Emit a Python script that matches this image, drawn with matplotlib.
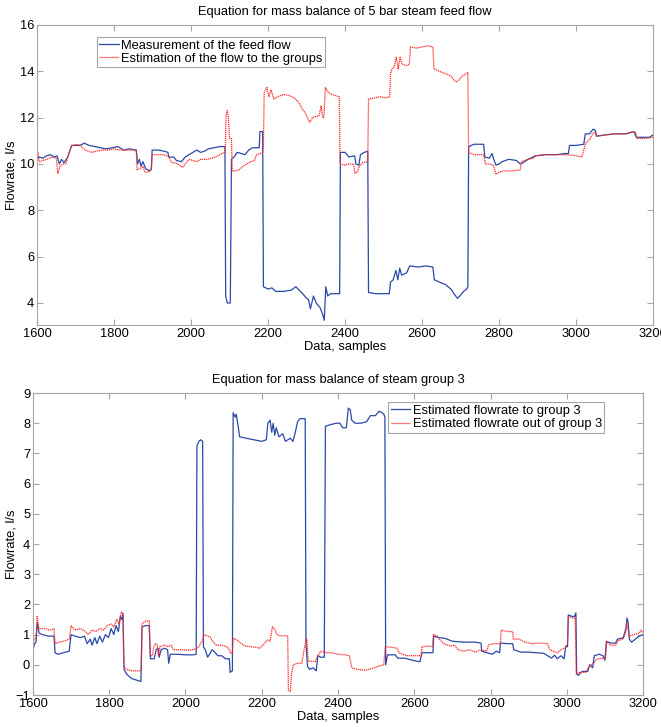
import numpy as np
import matplotlib
matplotlib.use('Agg')
import matplotlib.pyplot as plt

# feed flow balance (top) and steam group 3 balance (bottom)

feed_meas_x = [1600, 1605, 1615, 1625, 1635, 1645, 1652, 1658, 1664, 1670, 1680, 1690, 1700, 1710, 1718, 1722,
               1735, 1750, 1765, 1780, 1795, 1810, 1825, 1840, 1858, 1861, 1866, 1870, 1875, 1882, 1892, 1897,
               1899, 1915, 1930, 1940, 1942, 1955, 1962, 1975, 1985, 1995, 2005, 2015, 2025, 2035, 2045, 2060,
               2075, 2088, 2090, 2094, 2102, 2105, 2112, 2120, 2130, 2140, 2150, 2160, 2177, 2179, 2186, 2188,
               2200, 2210, 2220, 2240, 2260, 2272, 2278, 2290, 2300, 2305, 2310, 2318, 2325, 2335, 2342, 2346,
               2350, 2355, 2362, 2386, 2388, 2400, 2410, 2425, 2428, 2436, 2440, 2450, 2459, 2461, 2480, 2515,
               2518, 2525, 2532, 2537, 2542, 2547, 2560, 2568, 2590, 2610, 2628, 2632, 2645, 2660, 2675, 2685,
               2692, 2698, 2708, 2716, 2719, 2721, 2735, 2760, 2763, 2775, 2782, 2786, 2792, 2800, 2808, 2825,
               2845, 2855, 2862, 2875, 2895, 2920, 2950, 2970, 2980, 2983, 3000, 3020, 3024, 3035, 3044, 3050,
               3053, 3075, 3100, 3130, 3150, 3157, 3175, 3190, 3200]
feed_meas_y = [10.2, 10.3, 10.25, 10.35, 10.4, 10.3, 10.35, 10.0, 10.2, 10.05, 10.3, 10.8, 10.8, 10.8, 10.85, 10.9,
               10.8, 10.75, 10.7, 10.65, 10.7, 10.75, 10.6, 10.65, 10.6, 10.0, 10.2, 9.9, 10.1, 9.8, 9.7, 9.8,
               10.6, 10.6, 10.55, 10.5, 10.3, 10.3, 10.15, 10.1, 10.3, 10.4, 10.5, 10.6, 10.5, 10.55, 10.65, 10.7,
               10.75, 10.75, 4.3, 4.0, 4.0, 10.2, 10.3, 10.5, 10.45, 10.4, 10.6, 10.7, 10.7, 11.4, 11.4, 4.7,
               4.6, 4.65, 4.5, 4.5, 4.55, 4.7, 4.6, 4.4, 4.2, 4.15, 3.75, 4.3, 4.0, 3.8, 3.5, 3.25,
               4.7, 4.3, 4.4, 4.4, 10.5, 10.5, 10.3, 10.35, 10.0, 9.95, 10.4, 10.5, 10.55, 4.45, 4.4, 4.4,
               4.9, 5.0, 5.4, 5.0, 5.5, 5.2, 5.3, 5.6, 5.55, 5.6, 5.55, 5.0, 4.9, 4.8, 4.6, 4.35,
               4.2, 4.3, 4.5, 4.6, 4.7, 10.75, 10.85, 10.85, 10.3, 10.25, 10.45, 10.2, 9.95, 10.0, 10.1, 10.2,
               10.15, 10.0, 10.05, 10.2, 10.35, 10.4, 10.4, 10.45, 10.45, 10.8, 10.8, 10.85, 11.3, 11.3, 11.5, 11.45,
               11.2, 11.25, 11.3, 11.3, 11.4, 11.15, 11.15, 11.15, 11.25]

feed_est_x = [1600, 1602, 1606, 1615, 1625, 1640, 1650, 1654, 1660, 1668, 1675, 1685, 1692, 1705, 1715, 1725,
              1740, 1755, 1770, 1785, 1800, 1815, 1830, 1850, 1858, 1860, 1868, 1875, 1880, 1890, 1897, 1899,
              1915, 1930, 1942, 1950, 1960, 1970, 1978, 1985, 1995, 2005, 2015, 2025, 2040, 2055, 2070, 2080,
              2089, 2091, 2094, 2097, 2100, 2105, 2107, 2115, 2125, 2135, 2145, 2155, 2165, 2170, 2180, 2186,
              2188, 2190, 2197, 2202, 2208, 2215, 2225, 2240, 2255, 2268, 2280, 2288, 2297, 2302, 2308, 2316,
              2325, 2333, 2338, 2342, 2345, 2349, 2356, 2365, 2375, 2385, 2387, 2400, 2410, 2422, 2426, 2432,
              2437, 2445, 2459, 2461, 2475, 2490, 2505, 2516, 2518, 2522, 2528, 2533, 2538, 2543, 2548, 2560,
              2567, 2570, 2585, 2600, 2615, 2628, 2631, 2645, 2660, 2675, 2683, 2690, 2697, 2705, 2715, 2719,
              2721, 2735, 2760, 2765, 2775, 2785, 2792, 2800, 2815, 2835, 2855, 2858, 2875, 2890, 2893, 2920,
              2950, 2980, 3000, 3015, 3020, 3025, 3035, 3045, 3050, 3053, 3075, 3100, 3130, 3148, 3155, 3158,
              3180, 3200]
feed_est_y = [10.3, 10.5, 10.1, 10.15, 10.2, 10.3, 10.25, 9.6, 9.9, 10.0, 10.0, 10.6, 10.8, 10.85, 10.75, 10.6,
              10.5, 10.55, 10.6, 10.6, 10.65, 10.6, 10.6, 10.6, 10.55, 9.75, 9.8, 9.9, 9.65, 9.65, 9.75, 10.4,
              10.4, 10.4, 10.3, 10.05, 10.05, 9.95, 9.85, 10.0, 10.2, 10.15, 10.1, 10.2, 10.2, 10.25, 10.35, 10.45,
              10.5, 12.1, 12.3, 12.0, 11.1, 11.1, 9.7, 9.7, 9.75, 9.9, 10.0, 10.1, 10.15, 10.4, 10.45, 10.5,
              10.75, 13.1, 13.3, 12.9, 13.2, 12.8, 12.9, 13.0, 12.95, 12.85, 12.65, 12.4, 12.2, 12.0, 11.8, 12.0,
              12.05, 12.1, 12.5, 12.0, 12.0, 13.3, 13.1, 13.0, 12.95, 12.9, 10.0, 9.95, 10.0, 10.0, 9.6, 9.65,
              9.9, 10.05, 10.1, 12.8, 12.85, 12.9, 12.85, 12.9, 13.9, 14.1, 14.2, 14.6, 14.1, 14.6, 14.3, 14.25,
              14.3, 15.05, 15.0, 15.05, 15.1, 15.05, 14.1, 14.0, 13.9, 13.8, 13.6, 13.55, 13.65, 13.8, 13.9, 13.95,
              10.5, 10.4, 10.4, 10.0, 10.0, 9.95, 9.55, 9.65, 9.7, 9.7, 9.75, 10.1, 10.2, 10.25, 10.35, 10.4,
              10.4, 10.4, 10.35, 10.3, 10.6, 10.9, 11.05, 11.35, 11.35, 11.2, 11.25, 11.3, 11.3, 11.4, 11.35, 11.1,
              11.1, 11.15]

grp3_in_x = [1600, 1604, 1608, 1611, 1616, 1625, 1640, 1655, 1658, 1665, 1680, 1695, 1700, 1710, 1725, 1735,
             1742, 1750, 1755, 1762, 1768, 1775, 1782, 1790, 1798, 1805, 1812, 1818, 1824, 1829, 1833, 1836,
             1839, 1845, 1858, 1870, 1883, 1886, 1895, 1905, 1908, 1918, 1923, 1928, 1931, 1936, 1945, 1953,
             1956, 1960, 1980, 2000, 2020, 2028, 2030, 2035, 2040, 2045, 2047, 2052, 2058, 2063, 2070, 2078,
             2085, 2095, 2105, 2115, 2117, 2123, 2125, 2130, 2133, 2137, 2142, 2160, 2180, 2200, 2212, 2216,
             2222, 2226, 2230, 2234, 2238, 2245, 2255, 2262, 2275, 2282, 2288, 2294, 2300, 2314, 2316, 2320,
             2325, 2335, 2343, 2347, 2355, 2364, 2367, 2380, 2395, 2405, 2412, 2422, 2427, 2432, 2436, 2445,
             2460, 2475, 2485, 2498, 2508, 2515, 2520, 2523, 2525, 2530, 2550, 2557, 2575, 2595, 2615, 2620,
             2640, 2649, 2651, 2665, 2680, 2700, 2730, 2760, 2775, 2777, 2790, 2805, 2815, 2824, 2826, 2845,
             2858, 2861, 2880, 2900, 2920, 2940, 2950, 2960, 2968, 2975, 2985, 2993, 2997, 3002, 3004, 3015,
             3020, 3024, 3026, 3030, 3040, 3055, 3060, 3068, 3072, 3085, 3095, 3100, 3104, 3115, 3128, 3133,
             3148, 3155, 3158, 3161, 3164, 3170, 3180, 3190, 3200]
grp3_in_y = [0.45, 0.7, 0.75, 1.4, 1.05, 1.0, 0.95, 0.95, 0.4, 0.35, 0.4, 0.45, 1.0, 0.95, 0.9, 0.95,
             0.7, 0.85, 0.65, 0.9, 0.7, 0.95, 0.75, 1.0, 0.9, 1.2, 1.0, 1.3, 1.1, 1.6, 1.5, 1.7,
             -0.15, -0.3, -0.45, -0.5, -0.55, 1.25, 1.3, 1.3, 0.2, 0.2, 0.5, 0.55, 0.25, 0.5, 0.55, 0.5,
             0.05, 0.35, 0.35, 0.33, 0.33, 0.35, 7.25, 7.4, 7.45, 7.4, 0.6, 0.5, 0.25, 0.35, 0.5, 0.4,
             0.3, 0.3, 0.2, 0.2, -0.25, -0.2, 8.35, 8.2, 8.3, 8.0, 7.55, 7.5, 7.45, 7.4, 7.45, 8.0,
             8.1, 7.7, 8.0, 7.6, 7.85, 7.55, 7.65, 7.4, 7.5, 7.4, 7.7, 8.05, 8.15, 8.15, 0.7, -0.05,
             -0.15, -0.1, -0.2, 0.3, 0.25, 0.25, 7.9, 7.95, 8.0, 8.0, 7.85, 7.85, 8.5, 8.45, 8.1, 8.0,
             8.0, 8.05, 8.25, 8.25, 8.4, 8.35, 8.3, 8.2, 0.0, 0.33, 0.33, 0.22, 0.22, 0.15, 0.1, 0.4,
             0.4, 0.4, 0.95, 0.9, 0.88, 0.78, 0.75, 0.75, 0.72, 0.45, 0.4, 0.35, 0.45, 0.4, 0.72, 0.7,
             0.7, 0.5, 0.42, 0.42, 0.4, 0.38, 0.3, 0.22, 0.32, 0.2, 0.3, 0.2, 0.6, 0.6, 1.65, 1.6,
             1.6, 1.72, -0.3, -0.35, -0.22, -0.22, 0.0, -0.1, 0.3, 0.35, 0.3, 0.15, 0.78, 0.72, 0.72, 0.85,
             0.9, 1.2, 1.55, 1.4, 0.85, 0.75, 0.85, 0.95, 1.0]

grp3_out_x = [1600, 1604, 1608, 1611, 1616, 1630, 1645, 1655, 1658, 1670, 1685, 1695, 1700, 1710, 1725, 1738,
              1745, 1755, 1765, 1775, 1785, 1795, 1805, 1812, 1820, 1826, 1832, 1836, 1838, 1845, 1860, 1880,
              1884, 1886, 1895, 1905, 1907, 1913, 1917, 1922, 1926, 1929, 1933, 1945, 1955, 1962, 1968, 1990,
              2010, 2028, 2035, 2040, 2045, 2048, 2058, 2065, 2070, 2080, 2095, 2108, 2115, 2118, 2123, 2125,
              2135, 2145, 2155, 2170, 2185, 2195, 2205, 2215, 2222, 2228, 2235, 2240, 2250, 2260, 2268, 2270,
              2275, 2278, 2283, 2293, 2305, 2311, 2315, 2318, 2322, 2330, 2340, 2345, 2355, 2370, 2385, 2400,
              2420, 2430, 2436, 2450, 2470, 2490, 2505, 2520, 2524, 2540, 2555, 2560, 2580, 2600, 2618, 2620,
              2640, 2648, 2650, 2660, 2668, 2680, 2695, 2705, 2715, 2730, 2745, 2760, 2775, 2790, 2795, 2810,
              2826, 2828, 2845, 2858, 2860, 2875, 2890, 2910, 2930, 2950, 2955, 2965, 2975, 2985, 2993, 2998,
              3002, 3004, 3015, 3022, 3025, 3035, 3050, 3058, 3070, 3080, 3095, 3102, 3104, 3115, 3128, 3135,
              3148, 3155, 3157, 3161, 3165, 3175, 3190, 3195, 3200]
grp3_out_y = [0.75, 0.85, 0.9, 1.6, 1.2, 1.2, 1.15, 1.2, 0.7, 0.75, 0.8, 0.85, 1.3, 1.15, 1.2, 1.1,
              1.0, 1.15, 1.1, 1.2, 1.15, 1.3, 1.35, 1.25, 1.5, 1.35, 1.75, 1.7, -0.05, -0.15, -0.2, -0.2,
              -0.15, 1.35, 1.45, 1.45, 0.3, 0.3, 0.6, 0.7, 0.65, 0.3, 0.6, 0.65, 0.6, 0.65, 0.5, 0.5,
              0.48, 0.52, 0.6, 0.72, 0.8, 1.0, 0.95, 0.92, 0.8, 0.65, 0.65, 0.6, 0.5, 0.38, 0.4, 0.88,
              0.82, 0.72, 0.62, 0.6, 0.58, 0.55, 0.68, 0.82, 0.78, 1.27, 1.15, 1.0, 0.95, 0.97, 0.95, -0.85,
              -0.88, -0.3, 0.0, 0.05, 0.05, 0.5, 0.72, 0.85, 0.12, 0.12, 0.1, 0.25, 0.45, 0.4, 0.4, 0.35,
              0.33, 0.3, -0.1, -0.15, -0.18, -0.12, -0.05, 0.0, 0.6, 0.58, 0.55, 0.4, 0.3, 0.3, 0.3, 0.6,
              0.62, 0.6, 1.0, 0.95, 0.82, 0.68, 0.62, 0.65, 0.5, 0.45, 0.5, 0.42, 0.5, 0.45, 0.66, 0.7,
              0.7, 1.15, 1.1, 1.1, 0.85, 0.85, 0.75, 0.7, 0.72, 0.7, 0.5, 0.45, 0.4, 0.5, 0.55, 0.6,
              0.7, 1.6, 1.55, 1.55, -0.3, -0.25, -0.25, -0.05, 0.05, 0.2, 0.22, 0.2, 0.77, 0.65, 0.65, 0.8,
              0.85, 1.1, 1.38, 1.16, 0.95, 1.0, 1.05, 1.15, 1.05]

top_yticks = [4, 6, 8, 10, 12, 14, 16]
bot_yticks = [-1, 0, 1, 2, 3, 4, 5, 6, 7, 8, 9]
xticks = [1600, 1800, 2000, 2200, 2400, 2600, 2800, 3000, 3200]

plt.rcParams['font.family'] = ['Liberation Sans', 'DejaVu Sans']
plt.rcParams['font.size'] = 9.3

blue = '#2b49a8'
red = '#ff2a2a'
grey = '#a6a6a6'

fig = plt.figure(figsize=(6.61, 7.27), dpi=100)
ax1 = fig.add_axes([0.056, 0.553, 0.932, 0.4127])
ax2 = fig.add_axes([0.0499, 0.044, 0.9229, 0.4154])


def style(ax, ylab_x):
    for s in ax.spines.values():
        s.set_color(grey)
    ax.tick_params(direction='in', length=4, color=grey, top=True, right=True, pad=2)
    ax.set_xticks(xticks)
    ax.set_xlim(1600, 3200)
    ax.set_xlabel('Data, samples', labelpad=1)
    ax.set_ylabel('Flowrate, l/s')
    ax.yaxis.set_label_coords(ylab_x, 0.5)


ax1.plot(feed_meas_x, feed_meas_y, '-', color=blue, lw=0.9, label='Measurement of the feed flow')
ax1.plot(feed_est_x, feed_est_y, color=red, lw=0.9, ls=(0, (1, 0.6)), label='Estimation of the flow to the groups')
ax1.set_ylim(3.05, 16)
ax1.set_yticks(top_yticks)
ax1.set_title('Equation for mass balance of 5 bar steam feed flow', fontsize=9.3, pad=7)
style(ax1, -0.031)
leg = ax1.legend(loc='upper left', bbox_to_anchor=(0.097, 0.96), fancybox=False, framealpha=1,
                 edgecolor=grey, borderaxespad=0, handlelength=1.5, handletextpad=0.2,
                 borderpad=0.2, labelspacing=0.1)
leg.get_frame().set_linewidth(0.8)

ax2.plot(grp3_in_x, grp3_in_y, '-', color=blue, lw=0.9, label='Estimated flowrate to group 3')
ax2.plot(grp3_out_x, grp3_out_y, color=red, lw=0.9, ls=(0, (1, 0.6)), label='Estimated flowrate out of group 3')
ax2.set_ylim(-1, 9)
ax2.set_yticks(bot_yticks)
ax2.set_title('Equation for mass balance of steam group 3', fontsize=9.3, pad=7)
style(ax2, -0.0246)
leg = ax2.legend(loc='upper left', bbox_to_anchor=(0.582, 0.97), fancybox=False, framealpha=1,
                 edgecolor=grey, borderaxespad=0, handlelength=1.5, handletextpad=0.2,
                 borderpad=0.2, labelspacing=0.1)
leg.get_frame().set_linewidth(0.8)

plt.savefig('out.png', dpi=100)
